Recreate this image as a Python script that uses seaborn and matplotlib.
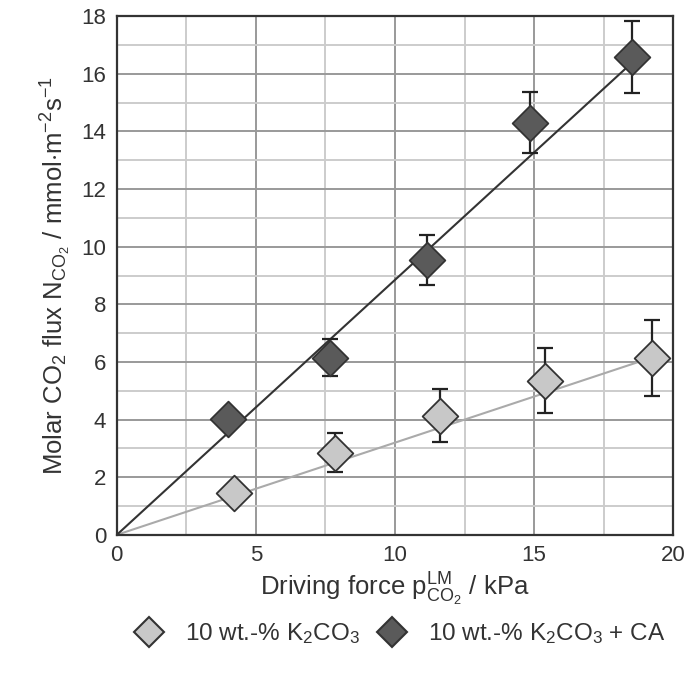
import numpy as np
import pandas as pd
import matplotlib.pyplot as plt
from matplotlib.lines import Line2D
import seaborn as sns

# 10 wt.-% K2CO3
x_k2co3 = [4.2, 7.85, 11.6, 15.4, 19.25]
y_k2co3 = [1.45, 2.85, 4.13, 5.35, 6.15]
err_k2co3 = [0.2, 0.68, 0.92, 1.12, 1.32]
slope_k2co3 = 0.32

# 10 wt.-% K2CO3 + CA
x_ca = [4.0, 7.65, 11.15, 14.85, 18.5]
y_ca = [4.03, 6.15, 9.55, 14.3, 16.6]
err_ca = [0.1, 0.64, 0.87, 1.06, 1.25]
slope_ca = 0.885

label_k2co3 = r'10 wt.-% K$_2$CO$_3$'
label_ca = r'10 wt.-% K$_2$CO$_3$ + CA'

sns.set_style('white')
plt.rcParams['font.family'] = ['Liberation Sans', 'DejaVu Sans']
plt.rcParams['mathtext.fontset'] = 'custom'
plt.rcParams['mathtext.rm'] = 'Liberation Sans'
plt.rcParams['mathtext.it'] = 'Liberation Sans'

fig = plt.figure(figsize=(6.87, 6.77), dpi=100)
ax = fig.add_axes([0.170, 0.210, 0.810, 0.766])

# grid
for v in np.arange(0, 20.1, 2.5):
    ax.axvline(v, color='#999999' if v % 5 == 0 else '#cccccc', lw=1.4, zorder=0)
for v in np.arange(0, 18.1, 1):
    ax.axhline(v, color='#999999' if v % 2 == 0 else '#cccccc', lw=1.4, zorder=0)

# fit lines through origin
fit = pd.DataFrame({
    'x': [0, x_k2co3[-1], 0, x_ca[-1]],
    'y': [0, slope_k2co3 * x_k2co3[-1], 0, slope_ca * x_ca[-1]],
    's': ['a', 'a', 'b', 'b'],
})
sns.lineplot(data=fit, x='x', y='y', hue='s', palette={'a': '#aaaaaa', 'b': '#333333'},
             legend=False, ax=ax, zorder=2, lw=1.5)

ax.errorbar(x_k2co3, y_k2co3, yerr=err_k2co3, fmt='none', ecolor='#222222',
            elinewidth=1.6, capsize=6, capthick=1.6, zorder=3)
ax.errorbar(x_ca, y_ca, yerr=err_ca, fmt='none', ecolor='#222222',
            elinewidth=1.6, capsize=6, capthick=1.6, zorder=3)

sns.scatterplot(x=x_k2co3, y=y_k2co3, marker='D', s=330, color='#c8c8c8',
                edgecolor='#333333', linewidth=1.3, ax=ax, zorder=4)
sns.scatterplot(x=x_ca, y=y_ca, marker='D', s=330, color='#5a5a5a',
                edgecolor='#333333', linewidth=1.3, ax=ax, zorder=4)

ax.set_xlim(0, 20)
ax.set_ylim(0, 18)
ax.set_xticks([0, 5, 10, 15, 20])
ax.set_xticks(np.arange(0, 20.1, 2.5), minor=True)
ax.set_yticks(np.arange(0, 18.1, 2))
ax.set_yticks(np.arange(0, 18.1, 1), minor=True)
ax.tick_params(axis='both', which='both', direction='inout', color='#333333',
               labelsize=16, labelcolor='#333333')
ax.tick_params(which='major', length=8, width=1.2)
ax.tick_params(which='minor', length=5, width=1.2)
for sp in ax.spines.values():
    sp.set_color('#333333')
    sp.set_linewidth(1.6)

ax.set_xlabel(r'Driving force p$_{\mathrm{CO_2}}^{\mathrm{LM}}$ / kPa', fontsize=18.5,
              color='#333333', labelpad=3)
ax.set_ylabel(r'Molar CO$_2$ flux N$_{\mathrm{CO_2}}$ / mmol$\cdot$m$^{-2}$s$^{-1}$',
              fontsize=18.5, color='#333333', labelpad=6)

handles = [
    Line2D([], [], ls='none', marker='D', ms=15, mfc='#c8c8c8', mec='#333333', mew=1.5),
    Line2D([], [], ls='none', marker='D', ms=15, mfc='#5a5a5a', mec='#333333', mew=1.5),
]
fig.legend(handles, [label_k2co3, label_ca], loc='center', bbox_to_anchor=(0.575, 0.064),
           ncol=2, frameon=False, fontsize=17.5, handletextpad=0.5, columnspacing=0.3,
           labelcolor='#333333')

fig.savefig('out.png', dpi=100)
